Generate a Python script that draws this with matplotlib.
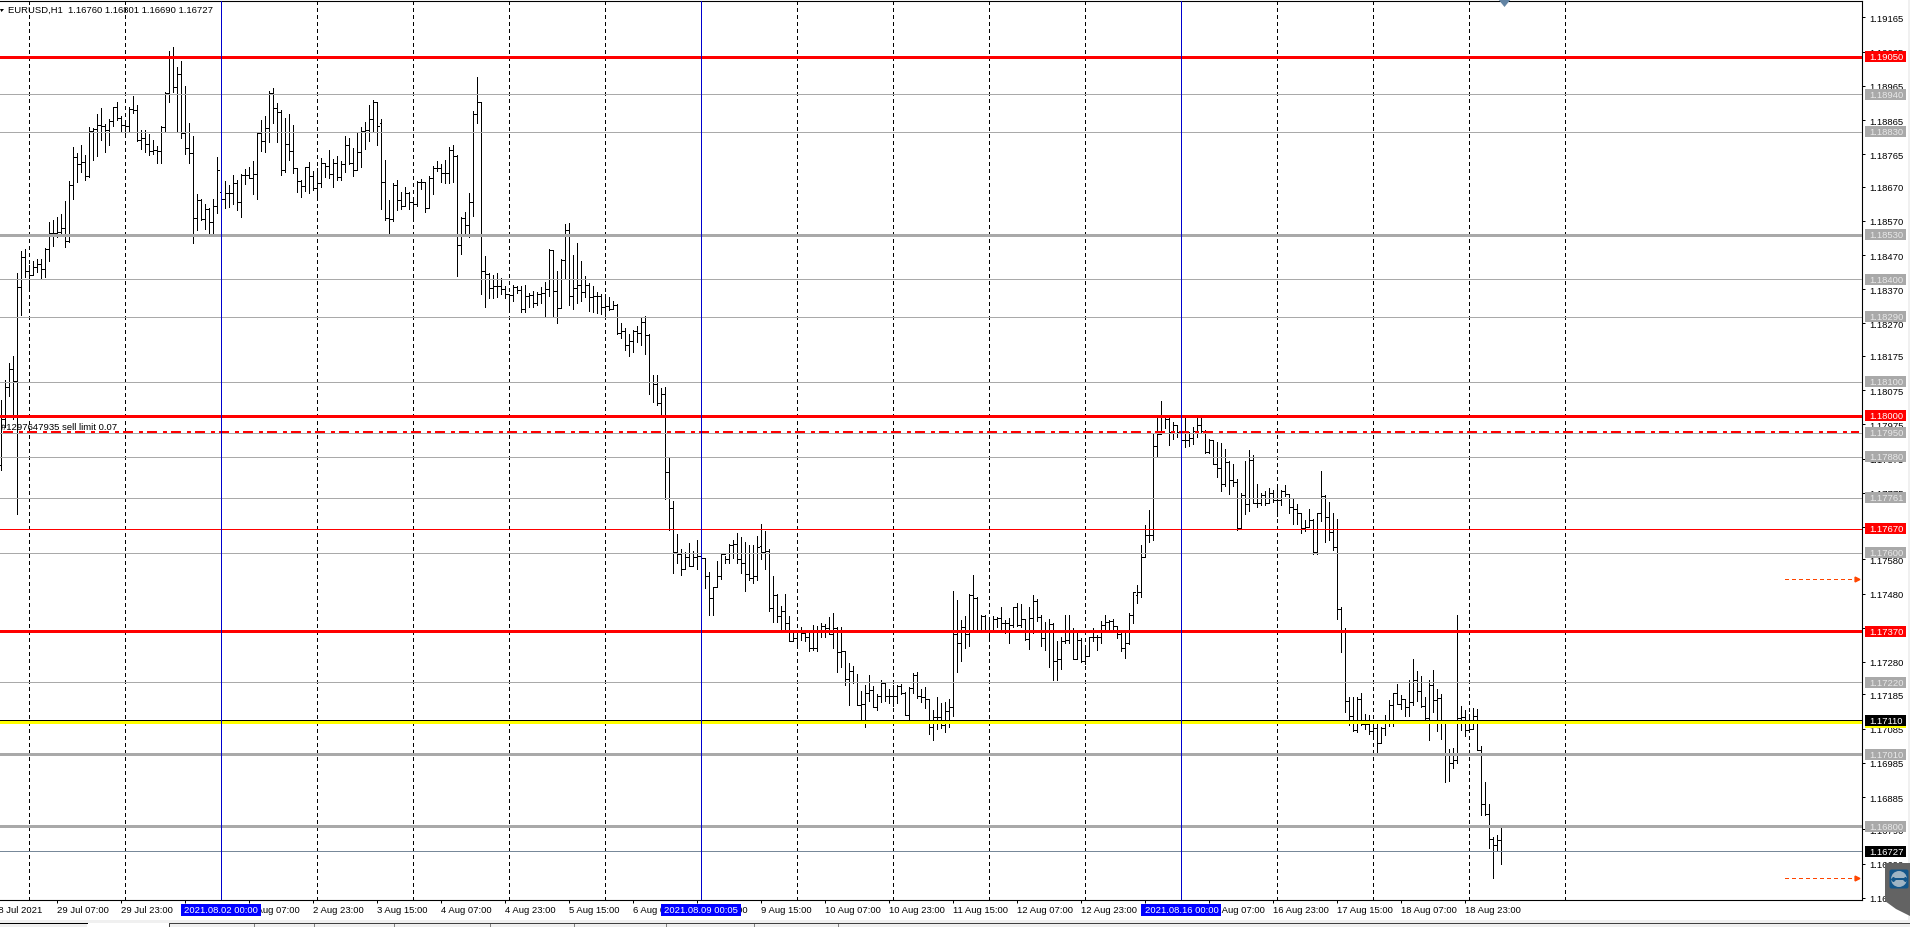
import numpy as np
import matplotlib
matplotlib.use("Agg")
import matplotlib.pyplot as plt
from matplotlib.patches import Rectangle, Polygon, Circle, FancyBboxPatch
from matplotlib.transforms import blended_transform_factory

plt.rcParams["font.family"] = ["Liberation Sans", "DejaVu Sans"]
plt.rcParams["lines.scale_dashes"] = False

# EURUSD H1 bars in points (1e-5), first bar is 28 Jul 17:00
bar_high = [
    118046,118106,118155,118175,118419,118483,118487,118441,118453,118460,
    118460,118492,118567,118572,118582,118589,118628,118688,118785,118770,
    118791,118763,118844,118841,118883,118899,118853,118867,118904,118917,
    118877,118855,118904,118935,118909,118836,118836,118823,118806,118789,
    118848,118948,119067,119079,119019,119038,118964,118855,118818,118649,
    118633,118619,118607,118633,118756,118670,118687,118675,118704,118690,
    118706,118721,118727,118746,118826,118865,118877,118951,118959,118916,
    118894,118870,118883,118850,118724,118690,118727,118742,118717,118724,
    118754,118740,118776,118750,118760,118746,118818,118811,118782,118828,
    118844,118860,118909,118923,118919,118869,118749,118630,118680,118690,
    118655,118668,118655,118635,118687,118692,118685,118700,118730,118746,
    118735,118749,118786,118793,118763,118581,118597,118652,118890,118991,
    118919,118468,118418,118413,118418,118403,118379,118357,118382,118379,
    118379,118383,118359,118365,118362,118377,118390,118488,118486,118424,
    118460,118562,118565,118471,118506,118453,118410,118387,118380,118362,
    118355,118355,118347,118335,118327,118271,118258,118238,118251,118264,
    118286,118293,118238,118120,118120,118080,118083,117876,117752,117654,
    117610,117602,117629,117605,117636,117600,117585,117542,117500,117575,
    117600,117590,117625,117636,117658,117646,117631,117621,117621,117648,
    117683,117662,117609,117531,117478,117443,117479,117414,117370,117373,
    117381,117371,117368,117388,117385,117393,117391,117412,117422,117383,
    117381,117312,117276,117268,117245,117195,117213,117242,117210,117185,
    117227,117220,117200,117213,117213,117216,117193,117206,117247,117251,
    117200,117206,117171,117140,117177,117161,117164,117171,117487,117461,
    117404,117414,117478,117534,117471,117417,117417,117407,117415,117412,
    117440,117404,117410,117441,117451,117449,117407,117441,117476,117463,
    117417,117396,117406,117393,117341,117354,117417,117417,117378,117366,
    117349,117319,117354,117380,117359,117400,117417,117403,117406,117386,
    117373,117373,117422,117485,117505,117622,117681,117725,117950,118000,
    118042,117996,117996,117982,117974,117955,118000,117953,117967,117998,
    117998,117957,117932,117930,117923,117920,117904,117867,117860,117816,
    117774,117867,117901,117886,117801,117774,117779,117789,117784,117793,
    117784,117798,117772,117759,117742,117715,117696,117728,117699,117712,
    117839,117769,117747,117716,117698,117441,117378,117178,117178,117178,
    117188,117129,117124,117109,117100,117090,117126,117168,117188,117217,
    117183,117173,117227,117288,117253,117238,117178,117227,117256,117202,
    117185,117109,117026,117029,117417,117150,117139,117129,117146,117142,
    117033,116929,116866,116768,116773,116801,
]
bar_low = [
    117841,117968,118059,117992,117712,118295,118407,118378,118412,118421,
    118400,118405,118454,118497,118524,118534,118493,118509,118634,118685,
    118714,118691,118699,118748,118761,118808,118772,118791,118848,118865,
    118834,118823,118831,118886,118804,118781,118772,118763,118766,118740,
    118740,118831,118919,118948,118834,118813,118765,118740,118506,118543,
    118573,118545,118532,118535,118594,118607,118609,118612,118619,118602,
    118580,118678,118694,118649,118633,118774,118772,118802,118857,118800,
    118704,118714,118748,118711,118655,118641,118658,118652,118660,118644,
    118668,118697,118694,118668,118690,118690,118714,118736,118701,118719,
    118728,118779,118803,118834,118792,118606,118574,118533,118569,118603,
    118605,118614,118605,118574,118614,118662,118597,118609,118650,118717,
    118685,118682,118680,118685,118410,118472,118531,118523,118583,118855,
    118357,118319,118345,118345,118347,118355,118345,118310,118337,118359,
    118305,118304,118319,118317,118325,118330,118293,118351,118293,118271,
    118315,118403,118325,118313,118331,118335,118347,118307,118305,118302,
    118299,118289,118309,118312,118239,118228,118191,118176,118188,118216,
    118208,118181,118065,118040,118031,118000,117757,117666,117540,117568,
    117535,117554,117560,117564,117553,117560,117496,117417,117417,117500,
    117522,117568,117568,117583,117570,117540,117489,117520,117510,117520,
    117582,117552,117429,117397,117398,117373,117371,117340,117343,117327,
    117344,117342,117312,117315,117313,117352,117352,117361,117321,117252,
    117266,117214,117154,117218,117153,117108,117091,117167,117147,117140,
    117164,117167,117161,117151,117159,117185,117124,117110,117188,117174,
    117164,117146,117068,117052,117083,117086,117075,117091,117122,117251,
    117283,117321,117328,117376,117371,117371,117373,117344,117373,117383,
    117367,117366,117336,117383,117386,117383,117344,117318,117366,117401,
    117328,117315,117266,117227,117227,117258,117334,117336,117288,117293,
    117281,117274,117299,117341,117315,117336,117370,117373,117371,117351,
    117311,117291,117332,117393,117452,117471,117588,117632,117637,117883,
    117947,117964,117915,117932,117937,117930,117908,117913,117918,117937,
    117953,117891,117890,117859,117820,117779,117796,117771,117796,117665,
    117671,117714,117722,117744,117732,117738,117740,117744,117747,117708,
    117740,117764,117715,117684,117683,117658,117663,117674,117595,117595,
    117691,117632,117637,117607,117405,117310,117134,117095,117077,117075,
    117097,117085,117068,117063,117014,117044,117067,117093,117093,117158,
    117142,117122,117122,117155,117165,117149,117109,117051,117134,117078,
    117056,116929,116931,116970,116985,117080,117063,117080,117083,117022,
    116831,116833,116735,116648,116729,116690,
]
bar_close = [
    117992,118085,118136,118103,118376,118465,118424,118412,118436,118444,
    118428,118487,118535,118534,118538,118548,118512,118675,118756,118736,
    118743,118702,118834,118838,118850,118848,118836,118863,118902,118870,
    118850,118848,118897,118894,118806,118813,118795,118775,118777,118775,
    118846,118945,119052,118962,118999,118826,118782,118770,118579,118631,
    118577,118604,118568,118613,118719,118633,118652,118652,118682,118624,
    118704,118704,118696,118707,118826,118803,118841,118943,118899,118889,
    118719,118795,118774,118724,118688,118672,118727,118702,118665,118680,
    118738,118730,118707,118740,118697,118736,118791,118740,118719,118772,
    118834,118836,118867,118918,118848,118684,118579,118577,118674,118630,
    118614,118652,118625,118620,118685,118685,118609,118695,118725,118725,
    118710,118710,118778,118761,118500,118579,118557,118626,118884,118919,
    118423,118416,118373,118379,118379,118371,118357,118352,118377,118367,
    118312,118350,118352,118330,118357,118359,118371,118485,118365,118315,
    118455,118544,118350,118374,118382,118362,118382,118347,118351,118350,
    118317,118321,118311,118324,118241,118249,118206,118219,118248,118241,
    118273,118236,118100,118093,118036,118063,117836,117731,117603,117597,
    117552,117588,117562,117588,117590,117585,117532,117466,117500,117530,
    117597,117582,117622,117625,117580,117570,117538,117525,117530,117617,
    117602,117605,117437,117476,117415,117429,117395,117342,117351,117368,
    117365,117352,117320,117320,117373,117386,117378,117363,117378,117308,
    117312,117229,117254,117220,117153,117156,117188,117198,117149,117179,
    117218,117181,117181,117181,117210,117188,117124,117203,117242,117181,
    117177,117171,117091,117120,117118,117096,117138,117149,117362,117334,
    117383,117362,117476,117466,117373,117415,117373,117373,117407,117410,
    117393,117393,117387,117440,117388,117407,117347,117410,117459,117412,
    117349,117373,117391,117284,117288,117341,117344,117371,117290,117344,
    117283,117298,117352,117352,117352,117388,117398,117400,117385,117362,
    117322,117336,117417,117484,117484,117588,117652,117650,117911,117947,
    117996,117992,117953,117972,117953,117930,117930,117935,117955,117972,
    117955,117894,117930,117859,117847,117800,117865,117813,117807,117673,
    117769,117742,117870,117744,117744,117767,117744,117774,117754,117754,
    117781,117771,117733,117728,117715,117673,117674,117696,117603,117715,
    117766,117705,117660,117617,117434,117370,117165,117122,117080,117173,
    117100,117100,117077,117087,117044,117087,117109,117153,117188,117158,
    117173,117147,117163,117227,117194,117152,117116,117212,117168,117175,
    117104,117007,116985,116992,117117,117119,117082,117085,117122,117022,
    116865,116836,116761,116745,116760,116727,
]
bar_open = [
    117856,117992,118085,118136,118103,118376,118465,118424,118412,118436,
    118444,118428,118487,118535,118534,118538,118548,118512,118675,118756,
    118736,118743,118702,118834,118838,118850,118848,118836,118863,118902,
    118870,118850,118848,118897,118894,118806,118813,118795,118775,118777,
    118775,118846,118945,119052,118962,118999,118826,118782,118770,118579,
    118631,118577,118604,118568,118613,118655,118633,118652,118652,118682,
    118624,118704,118704,118696,118707,118826,118803,118841,118943,118899,
    118889,118719,118795,118774,118724,118688,118672,118727,118702,118665,
    118680,118738,118730,118707,118740,118697,118736,118791,118740,118719,
    118772,118834,118836,118867,118918,118857,118684,118579,118577,118674,
    118630,118614,118652,118625,118620,118685,118685,118609,118695,118725,
    118725,118710,118710,118778,118761,118500,118579,118557,118626,118884,
    118919,118423,118416,118373,118379,118379,118371,118357,118352,118377,
    118367,118312,118350,118352,118330,118357,118359,118371,118485,118365,
    118315,118455,118544,118350,118374,118382,118362,118382,118347,118351,
    118350,118317,118321,118311,118324,118241,118249,118206,118219,118248,
    118241,118273,118236,118100,118093,118036,118063,117836,117731,117603,
    117597,117552,117588,117562,117588,117590,117585,117532,117466,117500,
    117530,117597,117582,117622,117625,117580,117570,117538,117525,117530,
    117619,117602,117605,117437,117476,117415,117429,117395,117342,117351,
    117368,117365,117352,117320,117320,117373,117386,117378,117363,117378,
    117308,117312,117229,117254,117220,117153,117156,117188,117198,117149,
    117179,117218,117181,117181,117181,117210,117188,117124,117203,117242,
    117181,117177,117171,117091,117120,117118,117096,117138,117149,117362,
    117334,117383,117362,117476,117466,117373,117415,117373,117373,117407,
    117410,117393,117393,117387,117440,117388,117407,117347,117410,117459,
    117412,117349,117373,117391,117284,117288,117341,117344,117371,117290,
    117344,117283,117298,117352,117352,117352,117388,117398,117400,117385,
    117362,117322,117336,117417,117476,117484,117588,117652,117650,117911,
    117947,117996,117992,117953,117972,117953,117930,117930,117935,117955,
    117972,117955,117894,117930,117859,117847,117800,117865,117813,117807,
    117673,117769,117742,117870,117744,117744,117767,117744,117774,117754,
    117754,117781,117771,117733,117728,117715,117673,117674,117696,117603,
    117715,117766,117705,117660,117617,117434,117370,117165,117122,117080,
    117173,117100,117100,117077,117087,117044,117087,117109,117153,117188,
    117158,117173,117147,117163,117227,117194,117152,117116,117212,117168,
    117175,117104,117007,116985,116992,117117,117119,117082,117085,117122,
    117022,116865,116836,116761,116745,116760,
]

# price scale ticks on the right
price_ticks = [1.19165, 1.19065, 1.18965, 1.18865, 1.18765, 1.18670, 1.18570, 1.18470, 1.18370,
               1.18270, 1.18175, 1.18075, 1.17975, 1.17875, 1.17775, 1.17675, 1.17580, 1.17480,
               1.17380, 1.17280, 1.17185, 1.17085, 1.16985, 1.16885, 1.16790, 1.16690, 1.16590]

# time scale, every 16 bars
time_tick_bars = [14, 30, 46, 62, 78, 94, 110, 126, 142, 158, 174, 190, 206, 222, 238, 254, 270, 286, 302, 318, 334, 350, 366]
time_tick_labels = ["29 Jul 07:00", "29 Jul 23:00", "30 Jul 15:00", "2 Aug 07:00", "2 Aug 23:00", "3 Aug 15:00",
                    "4 Aug 07:00", "4 Aug 23:00", "5 Aug 15:00", "6 Aug 07:00", "6 Aug 23:00", "9 Aug 15:00",
                    "10 Aug 07:00", "10 Aug 23:00", "11 Aug 15:00", "12 Aug 07:00", "12 Aug 23:00", "13 Aug 15:00",
                    "16 Aug 07:00", "16 Aug 23:00", "17 Aug 15:00", "18 Aug 07:00", "18 Aug 23:00"]

# day separators, one per 24 bars
grid_bars = list(range(7, 392, 24))

# weekly vertical lines
week_bars = [55, 175, 295]
week_labels = ["2021.08.02 00:00", "2021.08.09 00:05", "2021.08.16 00:00"]

# horizontal levels: price, colour, width in px
level_prices = [1.19050, 1.18940, 1.18830, 1.18530, 1.18400, 1.18290, 1.18100, 1.18000, 1.17950,
                1.17880, 1.17761, 1.17670, 1.17600, 1.17370, 1.17220, 1.17010, 1.16800]
level_colors = ["red", "darkgray", "darkgray", "darkgray", "darkgray", "darkgray", "darkgray", "red", "darkgray",
                "darkgray", "darkgray", "red", "darkgray", "red", "darkgray", "darkgray", "darkgray"]
level_widths = [2.6, 1, 1, 2.6, 1, 1, 1, 2.6, 1, 1, 1, 1, 1, 2.6, 1, 2.6, 2.6]

order_price = 1.17953
yellow_price = 1.17103
black_price = 1.17110
bid_price = 1.16727
arrow_prices = [1.17523, 1.16647]

PX = 0.72  # one pixel in points at dpi 100
W, H = 1910, 928
PLOT_R, PLOT_T, PLOT_B = 1862, 1.5, 901
Y_MIN, Y_MAX = 1.165838, 1.192146
FS = 6.8

fig = plt.figure(figsize=(W / 100, H / 100), dpi=100, facecolor="white")
ax = fig.add_axes([0, (H - PLOT_B) / H, PLOT_R / W, (PLOT_B - PLOT_T) / H])
chrome = fig.add_axes([0, 0, 1, 1], zorder=5)
chrome.set_xlim(0, W)
chrome.set_ylim(H, 0)
chrome.axis("off")

ax.set_xlim(-0.35, (PLOT_R - 1.4) / 4)
ax.set_ylim(Y_MIN, Y_MAX)

idx = np.arange(len(bar_high))
high = np.array(bar_high) / 1e5
low = np.array(bar_low) / 1e5
close = np.array(bar_close) / 1e5
open_ = np.array(bar_open) / 1e5

ax.vlines(grid_bars, 0, 1, transform=ax.get_xaxis_transform(), colors="black", lw=PX,
          linestyles=[(0, (3 * PX, 3 * PX))], antialiased=False, zorder=1)

ax.vlines(idx, low, high, colors="black", lw=PX, antialiased=False, zorder=2)
ax.hlines(open_, idx - 0.3, idx, colors="black", lw=PX, antialiased=False, zorder=2)
ax.hlines(close, idx, idx + 0.3, colors="black", lw=PX, antialiased=False, zorder=2)

for p, c, w in zip(level_prices, level_colors, level_widths):
    ax.axhline(p, color=c, lw=w * PX, antialiased=False, zorder=3)
ax.axhline(black_price, color="black", lw=PX, antialiased=False, zorder=3)
ax.axhline(yellow_price, color="yellow", lw=2.6 * PX, antialiased=False, zorder=3)
ax.axhline(bid_price, color="#778899", lw=PX, antialiased=False, zorder=3)
ax.plot([0.3, 464.5], [order_price, order_price], color="red", lw=2 * PX, antialiased=False, zorder=3,
        linestyle=(0, (10 * PX, 6 * PX, 3 * PX, 5 * PX)))
for b in week_bars:
    ax.axvline(b, color="#0000CD", lw=PX, antialiased=False, zorder=3)

for p in arrow_prices:
    ax.plot([446, 464], [p, p], color="#FF4500", lw=PX, antialiased=False, linestyle=(0, (3 * PX, 3 * PX)), zorder=3)
    ax.plot([464], [p], marker=">", color="#FF4500", ms=3.5, zorder=3)

ax.text(-0.1, 1.17969, "#1297647935 sell limit 0.07", fontsize=FS, va="center", ha="left", color="black", zorder=4)

# axes look
ax.spines["left"].set_visible(False)
for s in ["top", "right", "bottom"]:
    ax.spines[s].set_linewidth(1.1 * PX)
ax.yaxis.tick_right()
ax.set_yticks(price_ticks, [f"{t:.5f}" for t in price_ticks])
ax.set_xticks(time_tick_bars, time_tick_labels, ha="left")
ax.tick_params(axis="y", length=3 * PX, width=PX, pad=3, labelsize=FS)
ax.tick_params(axis="x", length=3 * PX, width=PX, pad=1.5, labelsize=FS)

# price labels in the right margin
y_tr = blended_transform_factory(chrome.transData, ax.transData)
box_h = 11 * (Y_MAX - Y_MIN) / (PLOT_B - PLOT_T)


def price_box(price, bg, fg=None):
    chrome.add_patch(Rectangle((1864.5, price - box_h / 2), 41.5, box_h, transform=y_tr, color=bg, lw=0, zorder=3))
    if fg:
        chrome.text(1869, price, f"{price:.5f}", transform=y_tr, color=fg, fontsize=FS,
                    va="center", ha="left", zorder=4)


for p, c in zip(level_prices, level_colors):
    price_box(p, "red" if c == "red" else "darkgray", "white" if c == "red" else "#E8E8E8")
price_box(yellow_price, "yellow")
price_box(black_price, "black", "white")
price_box(bid_price, "black", "white")

# time labels on the blue lines
x_tr = blended_transform_factory(ax.transData, chrome.transData)
for b, lab in zip(week_bars, week_labels):
    chrome.add_patch(Rectangle((b - 10, 905), 20, 12, transform=x_tr, color="#0000FF", lw=0, zorder=3))
    chrome.text(b, 911, lab, transform=x_tr, color="white", fontsize=FS, ha="center", va="center", zorder=4)
chrome.text(-7, 910.5, "28 Jul 2021", fontsize=FS, ha="left", va="center", clip_on=False)

# chart header and small markers
chrome.text(8, 10, "EURUSD,H1  1.16760 1.16801 1.16690 1.16727", fontsize=FS, ha="left", va="center")
chrome.add_patch(Polygon([(0, 10), (4, 10), (1.5, 13)], color="black", lw=0))
chrome.add_patch(Polygon([(1498, 0), (1511, 0), (1504.5, 8)], color="#6283A3", lw=0))

# window frame below and right of the chart
chrome.add_patch(Rectangle((1907.5, 0), 2.5, 922, color="#F0F0F0", lw=0))
chrome.add_patch(Rectangle((0, 921), W, 7, color="#F0F0F0", lw=0))
chrome.plot([0, 87], [924, 924], color="black", lw=PX, antialiased=False)
chrome.add_patch(Rectangle((87, 924), 82, 4, color="white", lw=0))
chrome.plot([169, W], [924, 924], color="#404040", lw=PX, antialiased=False)
chrome.plot([169, 169], [924, 928], color="#404040", lw=PX, antialiased=False)
chrome.vlines([254, 314, 394, 490, 574, 666, 754, 838], 925, 928, colors="#808080", lw=PX, antialiased=False)

# remote-desktop tab sitting on the corner
chrome.add_patch(Polygon([(1885, 864), (1910, 864), (1910, 917), (1896, 910), (1885, 902)], color="#636363", lw=0))
chrome.add_patch(FancyBboxPatch((1890, 871), 18, 18, boxstyle="round,pad=0.5,rounding_size=2", color="#14568A", lw=0))
chrome.add_patch(Circle((1899, 880), 8, color="#9FB4C4", lw=0))
chrome.plot([1893, 1905], [880, 880], color="#14568A", lw=2 * PX)
chrome.plot([1893, 1905], [880, 880], ls="none", marker="D", ms=2, color="#14568A")

fig.savefig("out.png", dpi=100)
